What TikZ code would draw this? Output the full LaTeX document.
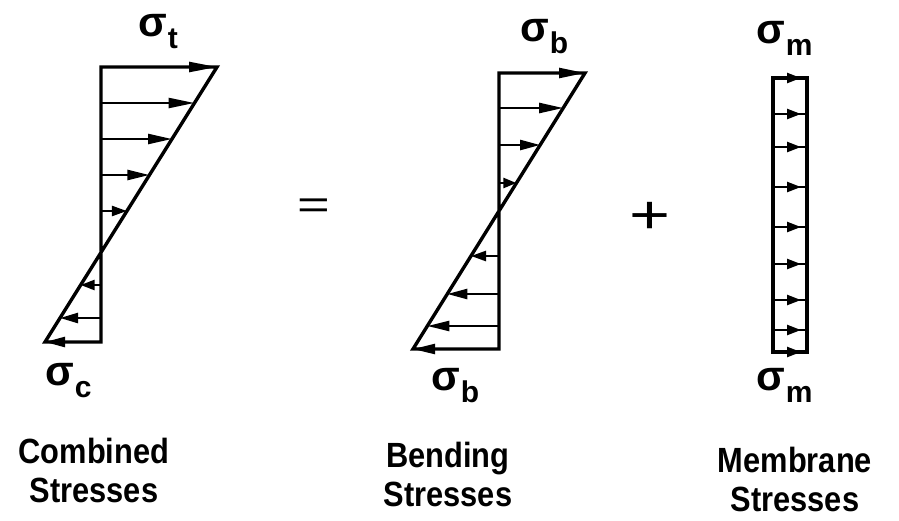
\documentclass[tikz,border=0pt]{standalone}
\usepackage{fontspec}
\setmainfont{Liberation Sans}
\newfontfamily\capfont{Liberation Sans}[FakeStretch=0.88]
\usetikzlibrary{arrows.meta}
\newcommand\sgm[1]{{\bfseries\fontsize{42}{42}\selectfont σ}\kern1pt\raisebox{-12pt}{\bfseries\fontsize{30}{30}\selectfont #1}}
\begin{document}
\begin{tikzpicture}[x=1pt,y=-1pt,
  outline/.style={line width=3.4pt,line join=miter,line cap=butt},
  arr/.style={line width=2.4pt,-{Triangle[length=#1,width=10pt]}},
  arr/.default=24pt,
  marr/.style={line width=2.4pt,-{Triangle[length=14pt,width=10pt]}},
  lbl/.style={inner sep=0pt,anchor=base west},
  captext/.style={font=\capfont\bfseries\fontsize{35}{39}\selectfont,align=center,inner sep=0pt},
  op/.style={inner sep=0pt}]
\useasboundingbox (0,0) rectangle (899,520);
% ---------- Combined ----------
\coordinate (cT) at (101,67);
\coordinate (cB) at (101,342);
\coordinate (cR) at (217,67);
\coordinate (cL) at (45,342);
\draw[outline] (cR) -- (cT) -- (cB) -- (cL) -- cycle;
\foreach \y/\x/\h in {67/217/28pt,103/194.5/26pt,139/172/24pt,175/149.4/22pt,211/126.9/15pt,285/80.6/14pt,318/60/18pt,342/45/20pt}{
  \coordinate (ca\y) at (101,\y); \coordinate (cb\y) at (\x,\y);
  \draw[arr=\h] (ca\y) -- (cb\y);}
\node[lbl] (st) at (138,36) {\sgm{t}};
\node[lbl] (sc) at (45,385) {\sgm{c}};
% ---------- Bending ----------
\coordinate (bT) at (499,73);
\coordinate (bB) at (499,349);
\coordinate (bR) at (585,73);
\coordinate (bL) at (413,349);
\draw[outline] (bR) -- (bT) -- (bB) -- (bL) -- cycle;
\foreach \y/\x/\h in {73/585/26pt,108/563.2/24pt,145/540.1/20pt,183/516.4/13pt,256/471/15pt,294/447.3/20pt,326/427.3/22pt,349/413/22pt}{
  \coordinate (ba\y) at (499,\y); \coordinate (bb\y) at (\x,\y);
  \draw[arr=\h] (ba\y) -- (bb\y);}
\node[lbl] (sb1) at (520,41) {\sgm{b}};
\node[lbl] (sb2) at (431,390) {\sgm{b}};
% ---------- Membrane ----------
\coordinate (m1) at (773,78);
\coordinate (m2) at (807,352);
\draw[outline] (m1) rectangle (m2);
\foreach \y in {114,147,187,227,264,300,330}{
  \coordinate (ml\y) at (773,\y); \coordinate (mr\y) at (807,\y);
  \draw[line width=2.4pt] (ml\y) -- (mr\y);}
\foreach \y in {78,114,147,187,227,264,300,330,352}{
  \coordinate (mal\y) at (773,\y); \coordinate (mam\y) at (801,\y);
  \draw[marr] (mal\y) -- (mam\y);}
\node[lbl] (sm1) at (756,43) {\sgm{m}};
\node[lbl] (sm2) at (756,390) {\sgm{m}};
% ---------- operators ----------
\node[op] (eq) at (314,209) {\scalebox{1.4}[1]{\fontsize{40}{40}\selectfont =}};
\node[op] (pl) at (650,218) {\scalebox{1.3}[1]{\fontsize{54}{54}\selectfont +}};
% ---------- captions ----------
\node[captext] (c1) at (94,470) {Combined\\Stresses};
\node[captext] (c2) at (448,474) {Bending\\Stresses};
\node[captext] (c3) at (795,479) {Membrane\\Stresses};
\end{tikzpicture}
\end{document}
